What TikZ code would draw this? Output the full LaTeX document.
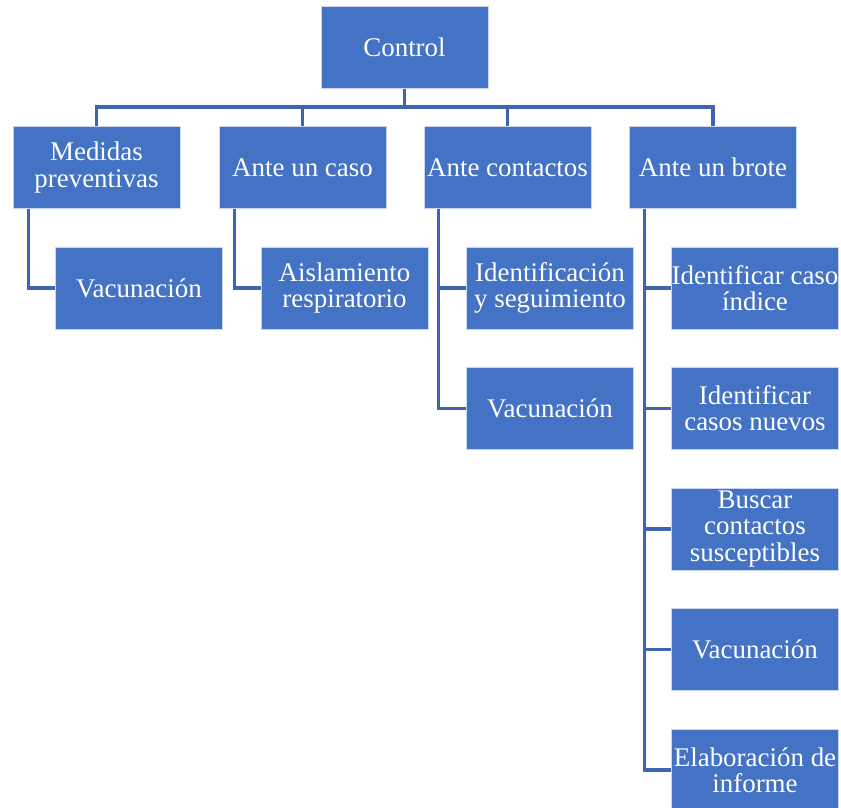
\documentclass[tikz,border=0pt]{standalone}
\usepackage{fontspec}
\setmainfont{Liberation Serif}
\definecolor{boxblue}{RGB}{68,114,196}
\definecolor{linkblue}{RGB}{63,101,176}
\definecolor{edgeblue}{RGB}{200,214,238}
\tikzset{
  box/.style={draw=edgeblue, line width=0.5pt, fill=boxblue, text=white,
    minimum width=125.25pt, minimum height=61.5pt, inner xsep=0pt, inner ysep=1pt,
    align=center, font=\fontsize{20.2}{19.6}\selectfont},
  link/.style={draw=linkblue, line width=2.3pt}
}
\begin{document}
\begin{tikzpicture}[x=0.75pt, y=-0.75pt]
\path[use as bounding box] (0,0) rectangle (841,807);

% root
\node[box] (ctrl) at (404.5,47.5) {Control};

% second level
\node[box] (med) at (96.5,167.5) {Medidas\\preventivas};
\node[box] (caso) at (302.5,167.5) {Ante un caso};
\node[box] (cont) at (507.5,167.5) {Ante contactos};
\node[box] (brote) at (713,167.5) {Ante un brote};

% third level
\node[box] (med1) at (139,288) {Vacunación};
\node[box] (caso1) at (344.5,288) {Aislamiento\\respiratorio};
\node[box] (cont1) at (550,288) {Identificación\\y seguimiento};
\node[box] (cont2) at (550,408.5) {Vacunación};
\node[box] (br1) at (755,288) {Identificar caso\\índice};
\node[box] (br2) at (755,408.5) {Identificar\\casos nuevos};
\node[box] (br3) at (755,529) {Buscar\\contactos\\susceptibles};
\node[box] (br4) at (755,649.5) {Vacunación};
\node[box] (br5) at (755,770) {Elaboración de\\informe};

% connectors from the root to the second level
\coordinate (bar) at (404.5,107);
\draw[link] (ctrl.south) -- (ctrl.south |- bar);
\draw[link] (med.north) -- (med.north |- bar) -- (brote.north |- bar) -- (brote.north);
\draw[link] (caso.north) -- (caso.north |- bar);
\draw[link] (cont.north) -- (cont.north |- bar);

% connectors from each group to its items
\draw[link] ([xshift=12pt]med.south west) |- (med1.west);
\draw[link] ([xshift=12pt]caso.south west) |- (caso1.west);
\foreach \c in {cont1,cont2}
  \draw[link] ([xshift=11.25pt]cont.south west) |- (\c.west);
\foreach \c in {br1,br2,br3,br4,br5}
  \draw[link] ([xshift=11.25pt]brote.south west) |- (\c.west);
\end{tikzpicture}
\end{document}
